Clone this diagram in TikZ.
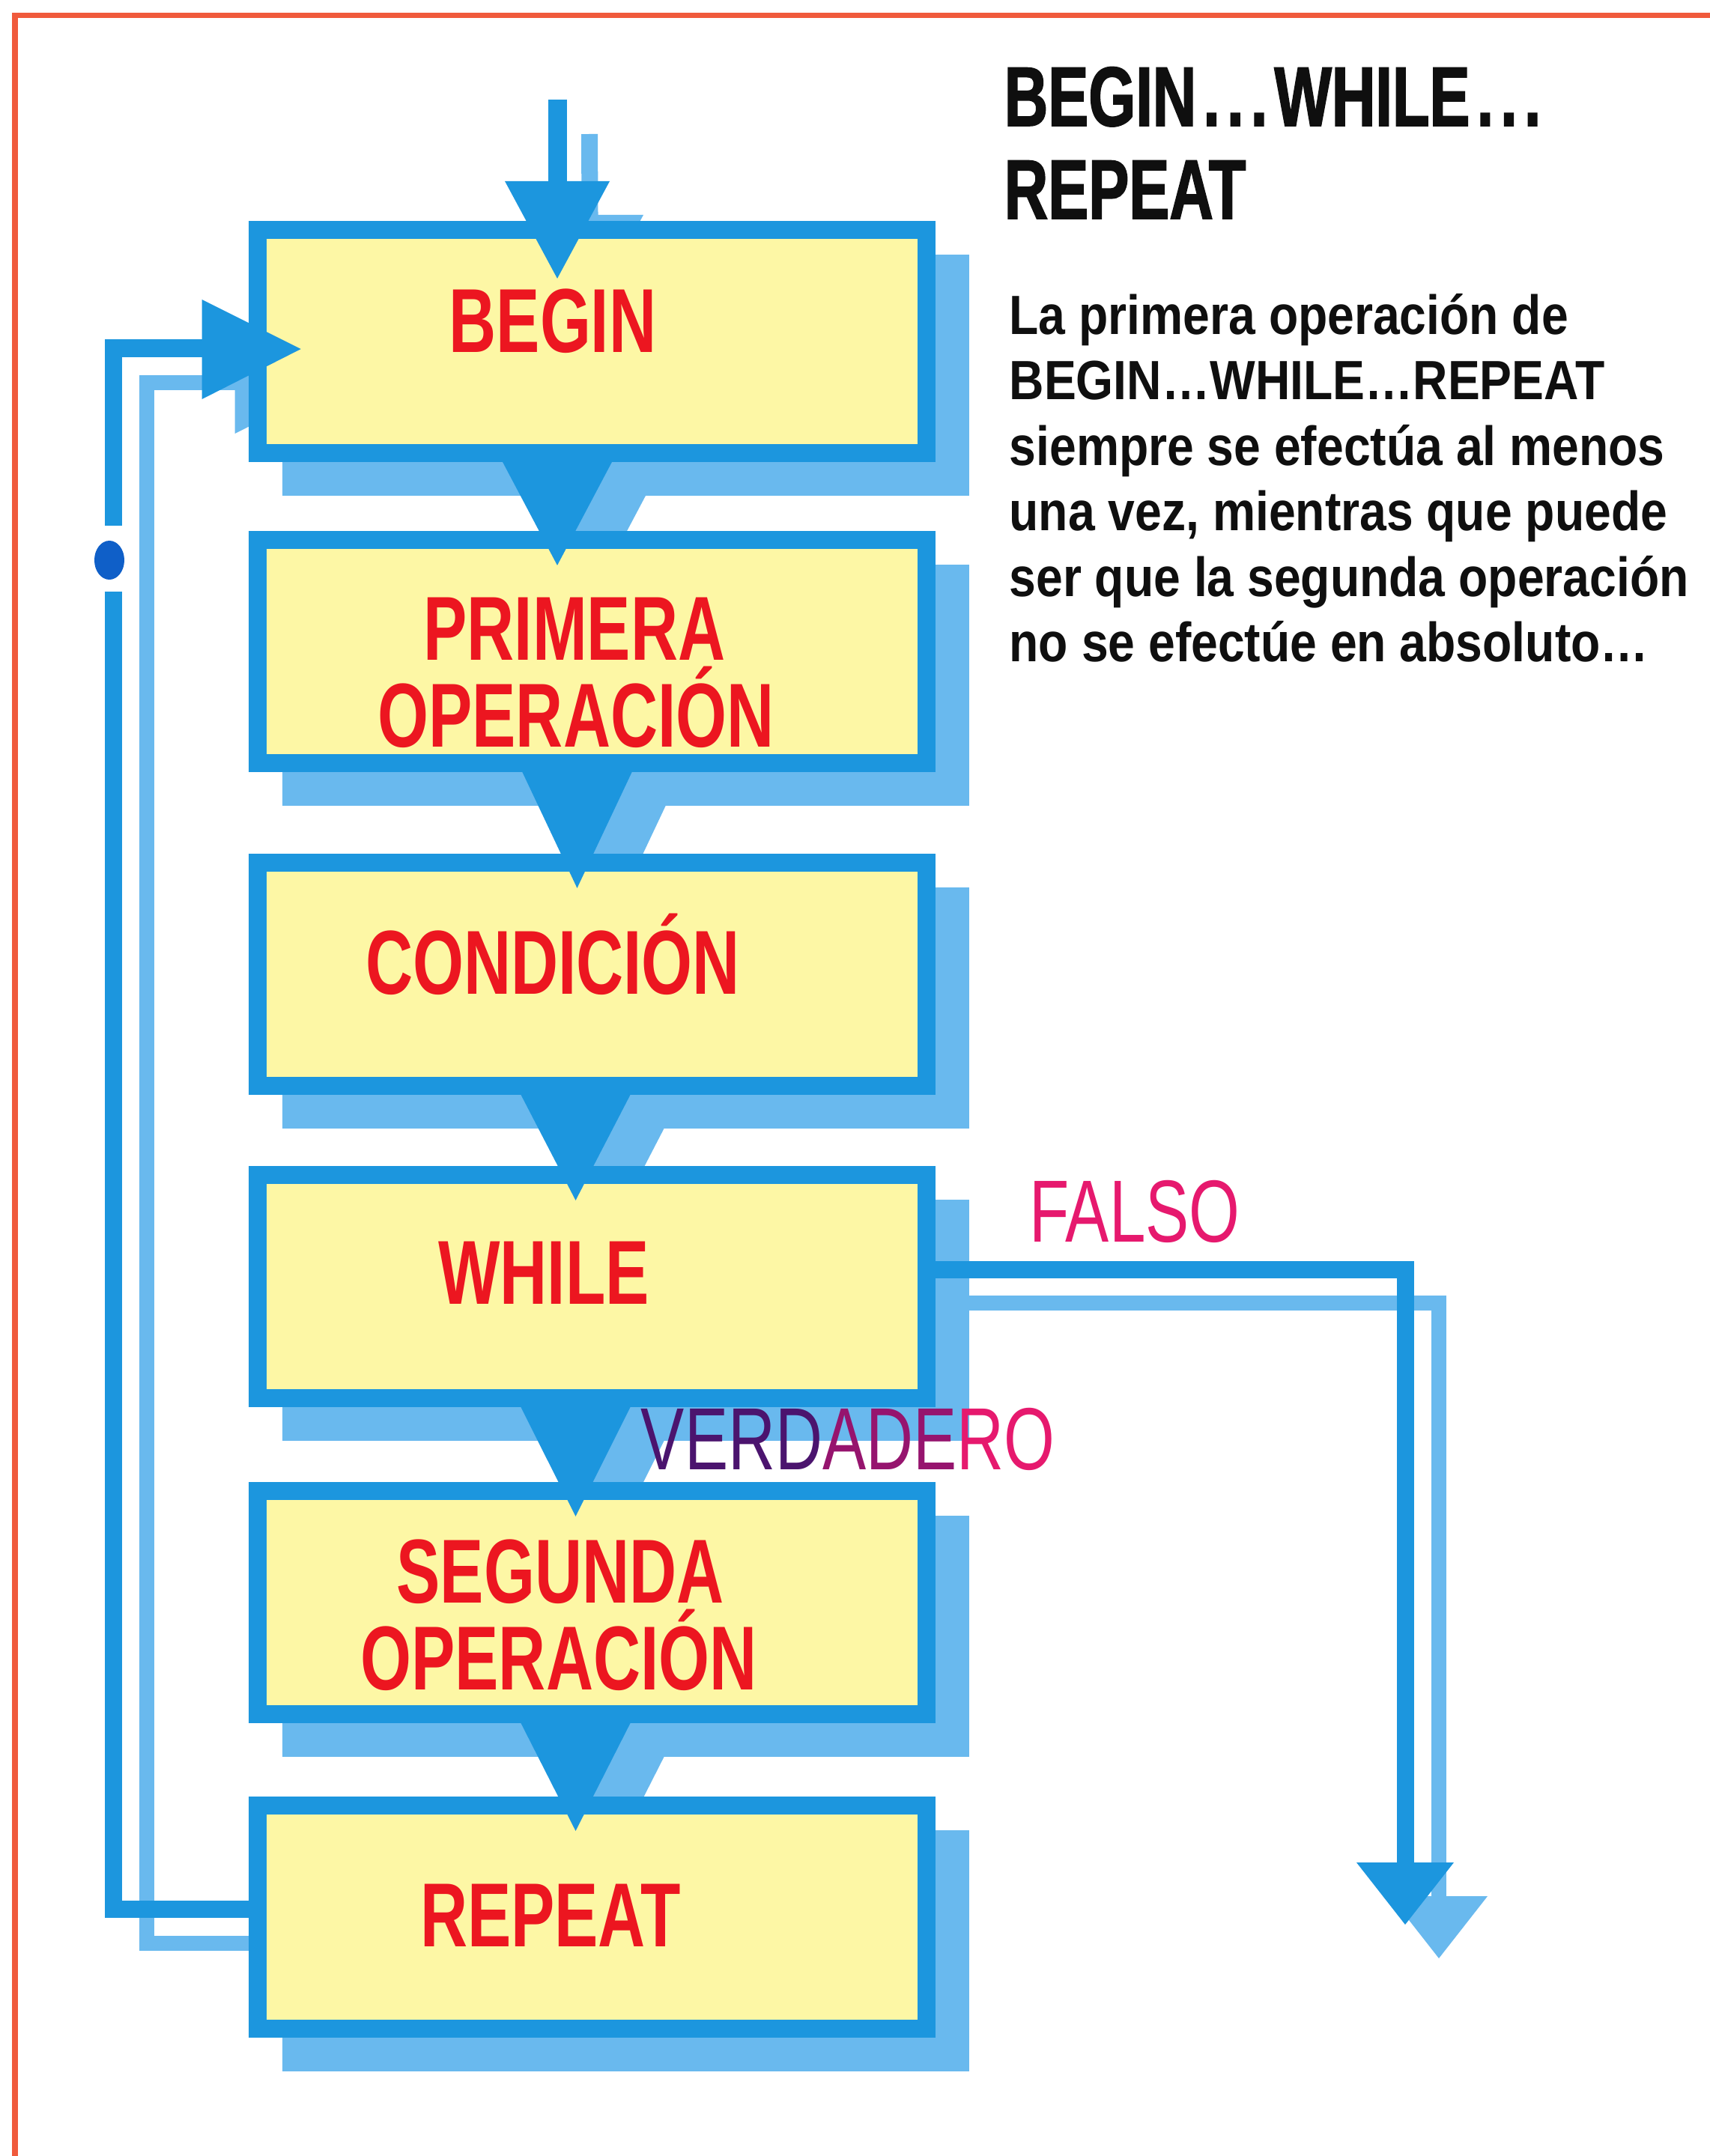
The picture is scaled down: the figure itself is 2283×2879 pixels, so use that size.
\documentclass[tikz,border=0pt]{standalone}
\usepackage{fontspec}
\setmainfont{Liberation Sans}
\newfontfamily\boxfont[FakeStretch=0.72]{Liberation Sans}
\newfontfamily\lblfont[FakeStretch=0.74]{Liberation Sans}
\newfontfamily\titlefont[FakeStretch=0.72,FakeBold=1.5]{Liberation Sans}
\newfontfamily\bodyfont[FakeStretch=0.87]{Liberation Sans}
\usetikzlibrary{calc}
\pgfdeclarelayer{bg}
\pgfdeclarelayer{shadow}
\pgfsetlayers{bg,shadow,main}
\definecolor{blueC}{RGB}{28,150,222}
\definecolor{shadowC}{RGB}{105,185,238}
\definecolor{yellowC}{RGB}{253,247,165}
\definecolor{redC}{RGB}{236,22,32}
\definecolor{pinkC}{RGB}{230,25,110}
\definecolor{purpleA}{RGB}{75,20,110}
\definecolor{purpleB}{RGB}{150,20,110}
\definecolor{borderC}{RGB}{240,90,60}
\definecolor{dotC}{RGB}{15,95,200}
\definecolor{textC}{RGB}{15,15,15}
\newcommand\boxshadow[1]{%
  \begin{pgfonlayer}{shadow}
    \fill[shadowC] ($(#1.north west)+(33,33)$) rectangle ($(#1.south east)+(57,57)$);
  \end{pgfonlayer}}
\newcommand\interarrow[3]{%
  \begin{pgfonlayer}{shadow}
    \fill[shadowC] ($(#1.south)+(#3-30,53)$) -- ($(#1.south)+(#3+120,53)$) -- ($(#2.north)+(#3+45,79)$) -- cycle;
  \end{pgfonlayer}
  \fill[blueC] ($(#1.south)+(#3-75,8)$) -- ($(#1.south)+(#3+75,8)$) -- ($(#2.north)+(#3,34)$) -- cycle;}
\newcommand\tdots{\kern2.6pt.\kern2.6pt.\kern2.6pt.\kern2.6pt}
\begin{document}
\begin{tikzpicture}[x=0.01cm,y=-0.01cm,
  box/.style={draw=blueC, line width=0.24cm, fill=yellowC, minimum width=8.93cm,
    minimum height=2.98cm, inner sep=0pt, outer sep=0pt},
  boxtxt/.style={text=redC, font=\boxfont\bfseries\fontsize{34.5}{36}\selectfont, anchor=base, inner sep=0pt},
  lbltxt/.style={text=pinkC, font=\lblfont\fontsize{33.5}{36}\selectfont, anchor=base, inner sep=0pt},
  titletxt/.style={text=textC, font=\titlefont\bfseries\fontsize{32}{34}\selectfont, anchor=base west, inner sep=0pt},
  bodytxt/.style={text=textC, font=\bodyfont\bfseries\fontsize{21}{24.9}\selectfont, anchor=base west, inner sep=0pt},
  conn/.style={draw=blueC, line width=0.23cm},
  shline/.style={draw=shadowC, line width=0.2cm}]
\useasboundingbox (0,0) rectangle (2283,2879);
\begin{pgfonlayer}{bg}
  \fill[white] (0,0) rectangle (2283,2879);
\end{pgfonlayer}
\draw[borderC, line width=0.07cm] (2283,21) -- (20,21) -- (20,2879);

% boxes
\node[box] (begin) at (790.5,456) {};
\node[box] (prim) at (790.5,870) {};
\node[box] (cond) at (790.5,1301) {};
\node[box] (while) at (790.5,1718) {};
\node[box] (seg) at (790.5,2140) {};
\node[box] (rep) at (790.5,2560) {};
\boxshadow{begin}\boxshadow{prim}\boxshadow{cond}
\boxshadow{while}\boxshadow{seg}\boxshadow{rep}

% named free ends
\coordinate (entry) at (744,133);
\coordinate (exitF) at (1876,2570);

% shadows of connectors
\begin{pgfonlayer}{shadow}
  \draw[shadowC, line width=0.22cm] ($(entry)+(43,46)$) -- ($(begin.north)+(-3,-20)$);
  \fill[shadowC] ($(begin.north)+(-71.5,-20)$) -- ($(begin.north)+(68.5,-20)$) -- ($(begin.north)+(-1.5,110)$) -- cycle;
  \draw[shline] ($(rep.west)+(-12,35)$) -| ($(begin.west)+(-148,55)$) -- ($(begin.west)+(-30,55)$);
  \fill[shadowC] ($(begin.west)+(-30,-10)$) -- ($(begin.west)+(-30,123)$) -- ($(begin.west)+(102,56)$) -- cycle;
  \draw[shline] ($(while.east)+(57,22)$) -| ($(exitF)+(45,-30)$);
  \fill[shadowC] ($(exitF)+(-20,-38)$) -- ($(exitF)+(110,-38)$) -- ($(exitF)+(45,45)$) -- cycle;
\end{pgfonlayer}

% entry arrow
\draw[blueC, line width=0.25cm] (entry) -- ($(begin.north)+(-46.5,-62)$);
\fill[blueC] ($(begin.north)+(-116.5,-65)$) -- ($(begin.north)+(23.5,-65)$) -- ($(begin.north)+(-46.5,65)$) -- cycle;

% arrows between boxes
\interarrow{begin}{prim}{-46.5}
\interarrow{prim}{cond}{-20}
\interarrow{cond}{while}{-22}
\interarrow{while}{seg}{-22}
\interarrow{seg}{rep}{-22}

% loop back to BEGIN
\draw[conn] ($(rep.west)+(0,-11)$) -| ($(begin.west)+(-192,9)$) -- ($(begin.west)+(-70,9)$);
\fill[blueC] ($(begin.west)+(-74,-56)$) -- ($(begin.west)+(-74,77)$) -- ($(begin.west)+(58,10)$) -- cycle;
\fill[white] (136,702) rectangle (168,790);
\fill[dotC] (146,748) ellipse [x radius=0.2cm, y radius=0.26cm];

% FALSO exit
\draw[conn] ($(while.east)+(0,-23)$) -| ($(exitF)+(0,-75)$);
\fill[blueC] ($(exitF)+(-65,-83)$) -- ($(exitF)+(65,-83)$) -- (exitF) -- cycle;

% box texts
\node[boxtxt] (tbegin) at (738,470) {BEGIN};
\node[boxtxt] (tprim1) at (767,881) {PRIMERA};
\node[boxtxt] (tprim2) at (769,997) {OPERACIÓN};
\node[boxtxt] (tcond) at (738,1327) {CONDICIÓN};
\node[boxtxt] (twhile) at (726,1741) {WHILE};
\node[boxtxt] (tseg1) at (748,2140) {SEGUNDA};
\node[boxtxt] (tseg2) at (746,2256) {OPERACIÓN};
\node[boxtxt] (trep) at (735,2599) {REPEAT};

% branch labels
\node[lbltxt] (falso) at (1515,1658) {FALSO};
\node[lbltxt] (verdadero) at (1132,1962) {\textcolor{purpleA}{VERD}\textcolor{purpleB}{ADE}RO};

% title and explanation
\node[titletxt] (title1) at (1340,168) {BEGIN\tdots WHILE\tdots};
\node[titletxt] (title2) at (1340,292) {REPEAT};
\node[bodytxt] (body1) at (1347,446) {La primera operación de};
\node[bodytxt] (body2) at (1347,533.5) {BEGIN…WHILE…REPEAT};
\node[bodytxt] (body3) at (1347,621) {siempre se efectúa al menos};
\node[bodytxt] (body4) at (1347,708.5) {una vez, mientras que puede};
\node[bodytxt] (body5) at (1347,796) {ser que la segunda operación};
\node[bodytxt] (body6) at (1347,883.5) {no se efectúe en absoluto…};
\end{tikzpicture}
\end{document}
